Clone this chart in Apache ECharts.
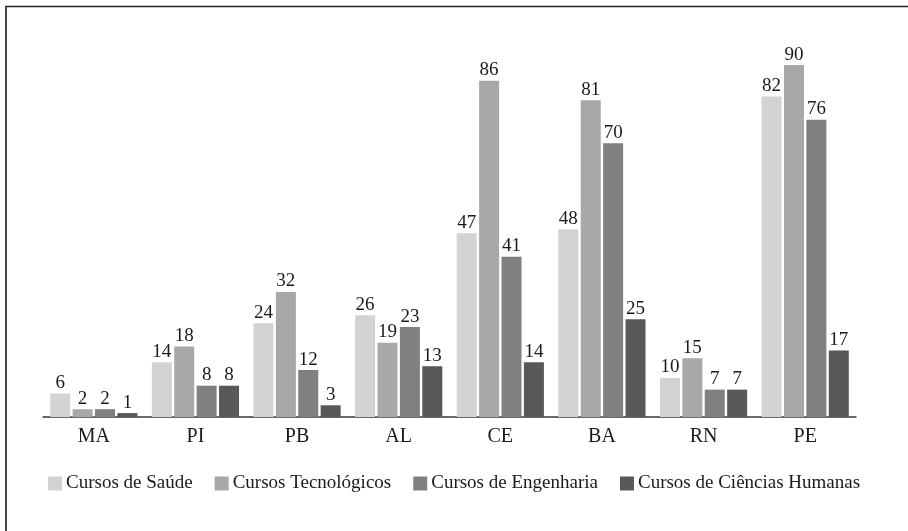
<!DOCTYPE html>
<html>
<head>
<meta charset="utf-8">
<script src="https://cdn.jsdelivr.net/npm/echarts@6/dist/echarts.min.js"></script>
<style>
html,body{margin:0;padding:0;background:#fff;}
#chart{width:908px;height:531px;}
</style>
</head>
<body>
<div id="chart"></div>
<script>
var categories = ['MA', 'PI', 'PB', 'AL', 'CE', 'BA', 'RN', 'PE'];
var seriesNames = ['Cursos de Saúde', 'Cursos Tecnológicos', 'Cursos de Engenharia', 'Cursos de Ciências Humanas'];
var saude = [6, 14, 24, 26, 47, 48, 10, 82];
var tecnologicos = [2, 18, 32, 19, 86, 81, 15, 90];
var engenharia = [2, 8, 12, 23, 41, 70, 7, 76];
var humanas = [1, 8, 3, 13, 14, 25, 7, 17];
var colors = ['#d3d3d5', '#a8a8ab', '#808083', '#58585b'];

var FONT = '"Liberation Serif", "DejaVu Serif", serif';
var chart = echarts.init(document.getElementById('chart'));
var values = [saude, tecnologicos, engenharia, humanas];

chart.setOption({
  animation: false,
  textStyle: { fontFamily: FONT, color: '#1a1a1a' },
  graphic: [
    { type: 'line', shape: { x1: 5, y1: 6.5, x2: 908, y2: 6.5 }, style: { stroke: '#222', lineWidth: 1.5 } },
    { type: 'line', shape: { x1: 6, y1: 6, x2: 6, y2: 531 }, style: { stroke: '#444', lineWidth: 2 } }
  ],
  legend: {
    left: 43,
    top: 469,
    itemWidth: 14,
    itemHeight: 14,
    itemGap: 22,
    icon: 'rect',
    textStyle: { fontFamily: FONT, fontSize: 19, color: '#1a1a1a', padding: [0, 0, 0, -1] },
    data: seriesNames
  },
  grid: { left: 43, right: 52, top: 26, bottom: 114 },
  xAxis: {
    type: 'category',
    data: categories,
    axisLine: { show: true, lineStyle: { color: '#3a3a3a', width: 1.5 } },
    axisTick: { show: false },
    axisLabel: { fontFamily: FONT, fontSize: 20, color: '#1a1a1a', margin: 10 }
  },
  yAxis: {
    type: 'value',
    min: 0,
    max: 100,
    show: false,
    splitLine: { show: false }
  },
  series: seriesNames.map(function (name, i) {
    return {
      name: name,
      type: 'bar',
      data: values[i],
      barWidth: 20,
      barGap: '12%',
      itemStyle: { color: colors[i] },
      label: {
        show: true,
        position: 'top',
        distance: 1,
        fontFamily: FONT,
        fontSize: 19,
        color: '#1a1a1a'
      }
    };
  })
});
</script>
</body>
</html>
